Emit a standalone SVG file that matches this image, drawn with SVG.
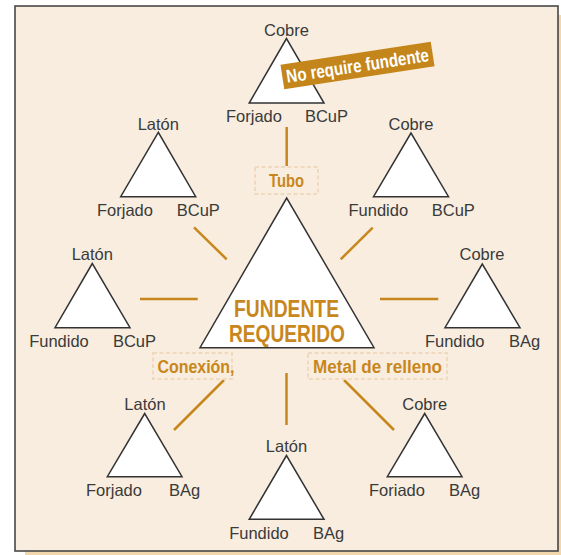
<svg xmlns="http://www.w3.org/2000/svg" width="561" height="555" viewBox="0 0 561 555">
<style>
.tri{fill:#ffffff;stroke:#333333;stroke-width:1.5;stroke-linejoin:miter}
.lbl{font-family:"Liberation Sans",Arial,sans-serif;font-size:16.5px;fill:#3a3a3a;text-anchor:middle}
.con{stroke:#c8871c;stroke-width:2.5;fill:none}
.cbox{fill:none;stroke:#efdac0;stroke-width:2;stroke-dasharray:4 2.5}
.clbl{font-family:"Liberation Sans",Arial,sans-serif;font-size:18px;font-weight:bold;fill:#c8871c;text-anchor:middle}
.main{font-family:"Liberation Sans",Arial,sans-serif;font-size:23px;font-weight:bold;fill:#c8871c;text-anchor:middle}
</style>
<rect x="25" y="15" width="540" height="545" fill="#f2d7ad"/>
<rect x="15" y="6" width="543" height="545" fill="#f8eddf" stroke="#474747" stroke-width="1.6"/>

<g id="connectors">
<line class="con" x1="286.7" y1="127" x2="286.7" y2="166"/>
<line class="con" x1="194" y1="227.3" x2="226.7" y2="259.3"/>
<line class="con" x1="372.7" y1="227.7" x2="340.7" y2="259.3"/>
<line class="con" x1="140" y1="299" x2="197.7" y2="299"/>
<line class="con" x1="380" y1="299" x2="438.3" y2="299"/>
<line class="con" x1="286.5" y1="373" x2="286.5" y2="425"/>
<line class="con" x1="224" y1="380" x2="174" y2="430"/>
<line class="con" x1="344" y1="380" x2="394" y2="430"/>
<g id="label-tubo">
<rect class="cbox" x="255" y="167" width="63" height="27"/>
<text class="clbl" x="286.5" y="187" textLength="35" lengthAdjust="spacingAndGlyphs">Tubo</text>
</g>
<g id="label-conexion">
<rect class="cbox" x="153" y="353" width="79" height="26"/>
<text class="clbl" x="196" y="372.5" textLength="77" lengthAdjust="spacingAndGlyphs">Conexión,</text>
</g>
<g id="label-metal">
<rect class="cbox" x="308" y="353" width="139" height="26"/>
<text class="clbl" x="377.5" y="372.5" textLength="129" lengthAdjust="spacingAndGlyphs">Metal de relleno</text>
</g>
</g>

<g id="node-main">
<polygon class="tri" points="286.7,198 200,347.7 374,347.7"/>
<text class="main" x="286.5" y="317" textLength="105" lengthAdjust="spacingAndGlyphs">FUNDENTE</text>
<text class="main" x="287" y="342" textLength="116" lengthAdjust="spacingAndGlyphs">REQUERIDO</text>
</g>

<g id="node-top">
<polygon class="tri" points="286.5,38.5 249.2,103 324,103"/>
<text class="lbl" x="286.5" y="36">Cobre</text>
<text class="lbl" x="254" y="122">Forjado</text>
<text class="lbl" x="326.5" y="122">BCuP</text>
</g>

<g id="note-no-flux" transform="translate(357.5,65.5) rotate(-8.7)">
<rect x="-76" y="-12.5" width="152" height="25" fill="#c4861a"/>
<text x="0" y="6.5" font-family="Liberation Sans,Arial,sans-serif" font-size="18.5" font-weight="bold" fill="#ffffff" text-anchor="middle" textLength="144" lengthAdjust="spacingAndGlyphs">No require fundente</text>
</g>

<g id="node-upper-left">
<polygon class="tri" points="158.3,132.3 120.7,196.7 195.7,196.7"/>
<text class="lbl" x="158.3" y="130">Latón</text>
<text class="lbl" x="125" y="216">Forjado</text>
<text class="lbl" x="198.3" y="216">BCuP</text>
</g>

<g id="node-upper-right">
<polygon class="tri" points="411,133 373.5,196.7 448.5,196.7"/>
<text class="lbl" x="411" y="130">Cobre</text>
<text class="lbl" x="378.3" y="216">Fundido</text>
<text class="lbl" x="453.3" y="216">BCuP</text>
</g>

<g id="node-left">
<polygon class="tri" points="92.3,263.5 55,327.7 130,327.7"/>
<text class="lbl" x="92.3" y="260">Latón</text>
<text class="lbl" x="59" y="346.5">Fundido</text>
<text class="lbl" x="134.5" y="346.5">BCuP</text>
</g>

<g id="node-right">
<polygon class="tri" points="482.3,264 445,327.7 520,327.7"/>
<text class="lbl" x="482" y="260">Cobre</text>
<text class="lbl" x="454.7" y="346.5">Fundido</text>
<text class="lbl" x="524.7" y="346.5">BAg</text>
</g>

<g id="node-bottom-left">
<polygon class="tri" points="144.7,413.5 107.3,476.7 182,476.7"/>
<text class="lbl" x="145" y="410">Latón</text>
<text class="lbl" x="114" y="496">Forjado</text>
<text class="lbl" x="184.6" y="496">BAg</text>
</g>

<g id="node-bottom">
<polygon class="tri" points="286.5,455.5 249.2,519.3 324,519.3"/>
<text class="lbl" x="286.5" y="452">Latón</text>
<text class="lbl" x="259" y="538.5">Fundido</text>
<text class="lbl" x="328.6" y="538.5">BAg</text>
</g>

<g id="node-bottom-right">
<polygon class="tri" points="424.7,413.5 387.3,476.7 462,476.7"/>
<text class="lbl" x="424.7" y="410">Cobre</text>
<text class="lbl" x="397" y="496">Foriado</text>
<text class="lbl" x="464.6" y="496">BAg</text>
</g>
</svg>
